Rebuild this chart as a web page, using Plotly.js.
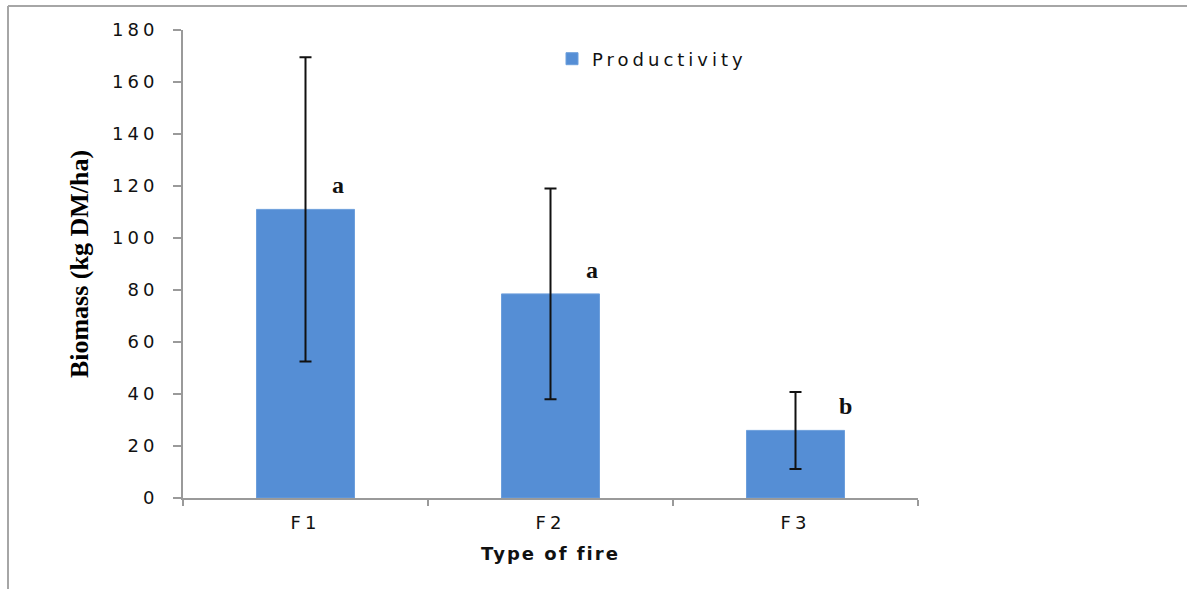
<!DOCTYPE html>
<html>
<head>
<meta charset="utf-8">
<script src="https://cdn.plot.ly/plotly-3.0.1.min.js"></script>
<style>
  html, body { margin: 0; padding: 0; background: #fff; }
  #chart { width: 1187px; height: 589px; }
  .ytick text, .xtick text { letter-spacing: 4px; }
  .legendtext { letter-spacing: 4px; }
  .g-xtitle text { letter-spacing: 2px; }
</style>
</head>
<body>
<div id="chart"></div>
<script>
// Data
const categories = ['F1', 'F2', 'F3'];
const productivity = [111, 78.5, 26];
const errors = [58.5, 40.5, 14.8];
const letters = ['a', 'a', 'b'];
const seriesName = 'Productivity';
const yTicks = [0, 20, 40, 60, 80, 100, 120, 140, 160, 180];

const W = 1187, H = 589;
const margin = {l: 183, r: 269, t: 30, b: 91};
const pw = W - margin.l - margin.r, ph = H - margin.t - margin.b;
const px = x => (x - margin.l) / pw;
const py = y => (H - margin.b - y) / ph;

const letterShifts = [32, 41, 50];

const trace = {
  type: 'bar',
  name: seriesName,
  x: categories,
  y: productivity,
  marker: {color: '#558ed5', line: {color: '#6d9fdc', width: 1}},
  error_y: {type: 'data', array: errors, visible: true, color: '#111111', thickness: 2, width: 6},
  showlegend: true,
  hoverinfo: 'x+y'
};

const annotations = categories.map((c, i) => ({
  x: c, y: productivity[i], xref: 'x', yref: 'y',
  text: '<b>' + letters[i] + '</b>',
  showarrow: false, xshift: letterShifts[i], yshift: 24,
  xanchor: 'center', yanchor: 'middle',
  font: {family: 'Liberation Serif, Times New Roman, serif', size: 24, color: '#111111'}
}));

const borderColor = '#a6a6a6';
const shapes = [
  {type: 'line', xref: 'paper', yref: 'paper', x0: px(8), x1: px(8), y0: py(H + 5), y1: py(6),
   line: {color: borderColor, width: 2}},
  {type: 'line', xref: 'paper', yref: 'paper', x0: px(8), x1: px(W + 5), y0: py(6), y1: py(6),
   line: {color: borderColor, width: 2}}
];

const tickFont = {family: 'DejaVu Sans, Verdana, sans-serif', size: 18, color: '#111111'};

const layout = {
  width: W, height: H,
  margin: margin,
  paper_bgcolor: '#ffffff',
  plot_bgcolor: '#ffffff',
  bargap: 0.6,
  showlegend: true,
  legend: {
    x: px(552), y: py(59), xanchor: 'left', yanchor: 'middle',
    bgcolor: 'rgba(0,0,0,0)',
    font: {family: 'DejaVu Sans, Verdana, sans-serif', size: 18, color: '#111111'}
  },
  xaxis: {
    type: 'category',
    tickson: 'boundaries',
    ticks: 'outside', ticklen: 6, tickwidth: 2, tickcolor: '#9a9a9a',
    showline: true, linecolor: '#9a9a9a', linewidth: 2,
    showgrid: false, zeroline: false,
    ticklabelstandoff: 7,
    tickfont: tickFont,
    title: {text: '<b>Type of fire</b>', standoff: 16,
            font: {family: 'DejaVu Sans, Verdana, sans-serif', size: 18, color: '#111111'}}
  },
  yaxis: {
    range: [0, 180],
    tickvals: yTicks,
    ticktext: yTicks.map(String),
    ticks: 'outside', ticklen: 8, tickwidth: 2, tickcolor: '#9a9a9a',
    showline: true, linecolor: '#9a9a9a', linewidth: 2,
    showgrid: false, zeroline: false,
    ticklabelstandoff: 11,
    tickfont: tickFont,
    title: {text: '<b>Biomass (kg DM/ha)</b>', standoff: 16,
            font: {family: 'Liberation Serif, Times New Roman, serif', size: 26, color: '#000000'}}
  },
  annotations: annotations,
  shapes: shapes
};

Plotly.newPlot('chart', [trace], layout, {displayModeBar: false, staticPlot: true});
</script>
</body>
</html>
